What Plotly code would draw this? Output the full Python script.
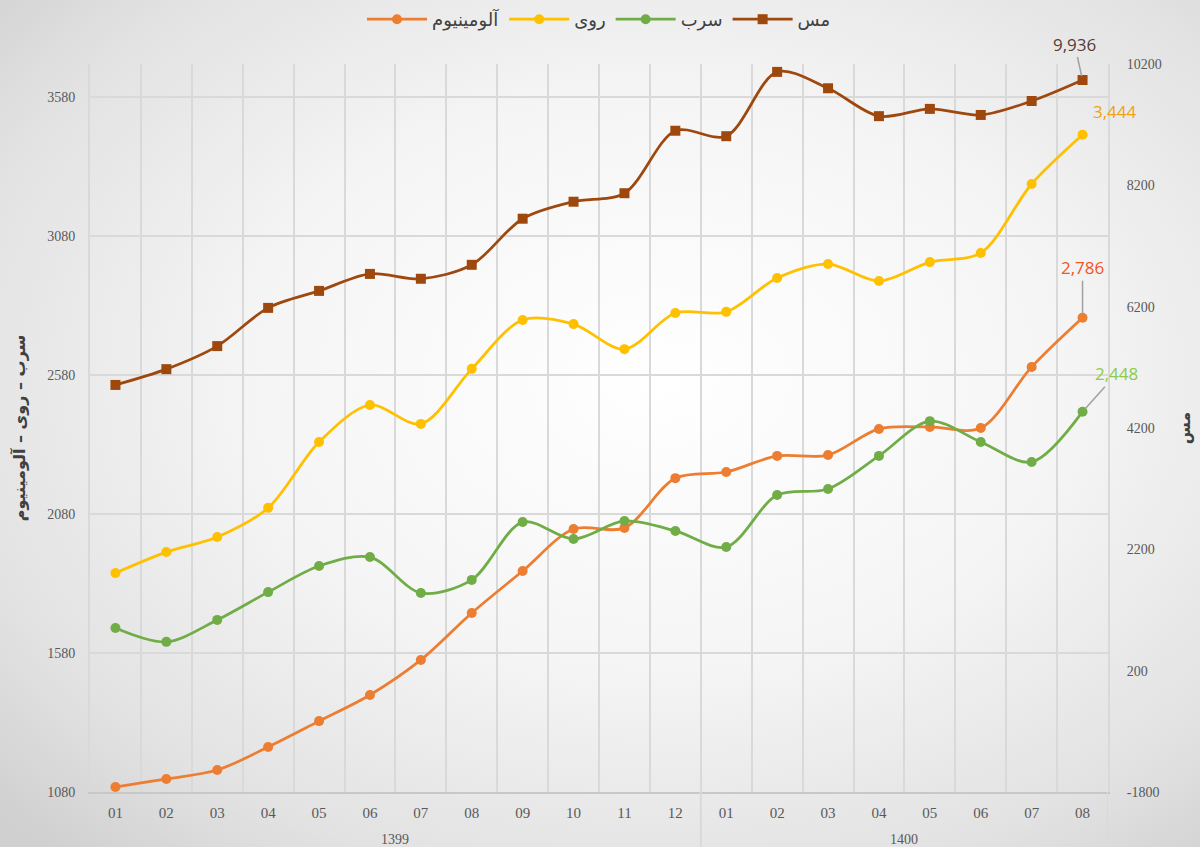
import plotly.graph_objects as go
import urllib.parse

# ---------------- data ----------------
years = ["1399"] * 12 + ["1400"] * 8
months = ["01", "02", "03", "04", "05", "06", "07", "08", "09", "10", "11", "12",
          "01", "02", "03", "04", "05", "06", "07", "08"]

aluminium = [1098, 1127, 1159, 1242, 1335, 1429, 1555, 1724, 1875, 2026, 2030, 2209,
             2231, 2289, 2292, 2386, 2393, 2389, 2609, 2786]
zinc = [1868, 1943, 1997, 2102, 2339, 2472, 2404, 2602, 2778, 2763, 2673, 2803,
        2807, 2929, 2979, 2918, 2986, 3019, 3267, 3444]
lead = [1670, 1620, 1699, 1799, 1893, 1925, 1796, 1843, 2051, 1990, 2055, 2019,
        1961, 2148, 2170, 2289, 2414, 2339, 2267, 2448]
copper = [4910, 5170, 5550, 6180, 6460, 6740, 6660, 6890, 7650, 7930, 8070, 9100,
          9010, 10070, 9800, 9340, 9460, 9360, 9590, 9936]

left_ticks = [1080, 1580, 2080, 2580, 3080, 3580]
right_ticks = [-1800, 200, 2200, 4200, 6200, 8200, 10200]

names = {"al": "آلومینیوم", "zn": "روی", "pb": "سرب", "cu": "مس"}
left_title = "سرب – روی – آلومینیوم"
right_title = "مس"

# ---------------- figure ----------------
W, H = 1200, 847
ML, MR, MT, MB = 90, 92, 64, 55
PW, PH = W - ML - MR, H - MT - MB

xs = list(range(len(months)))

C_AL, C_ZN, C_PB, C_CU = "#ED7D31", "#FFC000", "#70AD47", "#9E480E"

fig = go.Figure()

def add(y, name, color, symbol, axis):
    fig.add_trace(go.Scatter(
        x=xs, y=y, name=name, mode="lines+markers",
        line=dict(color=color, width=2.75, shape="spline", smoothing=0.9),
        marker=dict(color=color, size=10, symbol=symbol),
        yaxis=axis,
    ))

add(aluminium, names["al"], C_AL, "circle", "y")
add(zinc, names["zn"], C_ZN, "circle", "y")
add(lead, names["pb"], C_PB, "circle", "y")
add(copper, names["cu"], C_CU, "square", "y2")

tick_font = dict(family="Liberation Serif", size=14, color="#595959")
grid_c = "#d9d9d9"

svg = (
    "<svg xmlns='http://www.w3.org/2000/svg' width='1200' height='847'>"
    "<defs><radialGradient id='g' cx='55%' cy='45%' r='75%'>"
    "<stop offset='0' stop-color='#ffffff'/>"
    "<stop offset='0.45' stop-color='#f5f5f5'/>"
    "<stop offset='0.8' stop-color='#e2e2e2'/>"
    "<stop offset='1' stop-color='#d0d0d0'/>"
    "</radialGradient></defs>"
    "<rect width='1200' height='847' fill='url(#g)'/></svg>"
)
bg_src = "data:image/svg+xml;charset=utf-8," + urllib.parse.quote(svg)

last = len(months) - 1
split = years.count("1399")

fig.update_layout(
    width=W, height=H,
    margin=dict(l=ML, r=MR, t=MT, b=MB, autoexpand=False),
    paper_bgcolor="#ececec",
    plot_bgcolor="rgba(0,0,0,0)",
    images=[dict(source=bg_src, xref="paper", yref="paper",
                 x=-ML / PW, y=1 + MT / PH, sizex=W / PW, sizey=H / PH,
                 xanchor="left", yanchor="top", sizing="stretch", layer="below")],
    showlegend=True,
    legend=dict(orientation="h", xref="paper", x=0.5, xanchor="center",
                yref="paper", y=1 + 63 / PH, yanchor="top",
                font=dict(family="DejaVu Sans", size=18, color="#404040"),
                bgcolor="rgba(0,0,0,0)", itemwidth=60),
    xaxis=dict(
        range=[-0.5, last + 0.5], automargin=False,
        tickmode="array", tickvals=xs, ticktext=months,
        tickfont=dict(family="Liberation Serif", size=15, color="#595959"),
        showgrid=False, zeroline=False,
        showline=True, linecolor="#c8c8c8", linewidth=2,
        ticks="", ticklabelstandoff=6,
        minor=dict(tickvals=[i - 0.5 for i in range(len(months) + 1)],
                   showgrid=True, gridcolor=grid_c, gridwidth=2, ticks=""),
    ),
    yaxis=dict(
        range=[1080, 3698.6], automargin=False,
        tickmode="array", tickvals=left_ticks, ticktext=[str(v) for v in left_ticks],
        tickfont=tick_font, showgrid=True, gridcolor=grid_c, gridwidth=2,
        zeroline=False, showline=True, linecolor=grid_c, linewidth=2,
        ticks="", ticklabelstandoff=10,
        title=dict(text=left_title, standoff=18,
                   font=dict(family="DejaVu Sans", size=16, color="#404040", weight="bold")),
    ),
    yaxis2=dict(
        range=[-1800, 10200], overlaying="y", side="right", automargin=False,
        tickmode="array", tickvals=right_ticks, ticktext=[str(v) for v in right_ticks],
        tickfont=tick_font, showgrid=False, zeroline=False,
        showline=True, linecolor=grid_c, linewidth=2,
        ticks="", ticklabelstandoff=14,
        title=dict(text=right_title, standoff=18,
                   font=dict(family="DejaVu Sans", size=16, color="#404040", weight="bold")),
    ),
)

# year group labels and dividers
groups = [("1399", 0, split - 1), ("1400", split, last)]
for label, a, b in groups:
    fig.add_annotation(x=(a + b) / 2, y=-47 / PH, xref="x", yref="paper",
                       text=label, showarrow=False,
                       font=dict(family="Liberation Serif", size=14, color="#595959"),
                       yanchor="middle")
for bx in [split - 0.5, last + 0.5]:
    fig.add_shape(type="line", xref="x", yref="paper", x0=bx, x1=bx,
                  y0=0, y1=-MB / PH, line=dict(color=grid_c, width=2))

# end value labels
lab_font = "Open Sans"
fig.add_annotation(x=last, y=copper[-1], xref="x", yref="y2",
                   text=f"{copper[-1]:,}", showarrow=True, arrowhead=0,
                   arrowcolor="#a0a0a0", arrowwidth=1.5, ax=-8, ay=-36, standoff=4,
                   font=dict(family=lab_font, size=17, color="#5a3a32"))
fig.add_annotation(x=last, y=zinc[-1], xref="x", yref="y",
                   text=f"{zinc[-1]:,}", showarrow=False, xshift=32, yshift=23,
                   font=dict(family=lab_font, size=17, color="#F0A30A"))
fig.add_annotation(x=last, y=aluminium[-1], xref="x", yref="y",
                   text=f"{aluminium[-1]:,}", showarrow=True, arrowhead=0,
                   arrowcolor="#a0a0a0", arrowwidth=1.5, ax=0, ay=-50, standoff=4,
                   font=dict(family=lab_font, size=17, color="#F0561E"))
fig.add_annotation(x=last, y=lead[-1], xref="x", yref="y",
                   text=f"{lead[-1]:,}", showarrow=True, arrowhead=0,
                   arrowcolor="#a0a0a0", arrowwidth=1.5, ax=34, ay=-38, standoff=4,
                   font=dict(family=lab_font, size=17, color="#8CCB45"))

fig.write_html("out.html", config={"displayModeBar": False},
               post_script="document.body.style.margin='0';document.body.style.overflow='hidden';")
